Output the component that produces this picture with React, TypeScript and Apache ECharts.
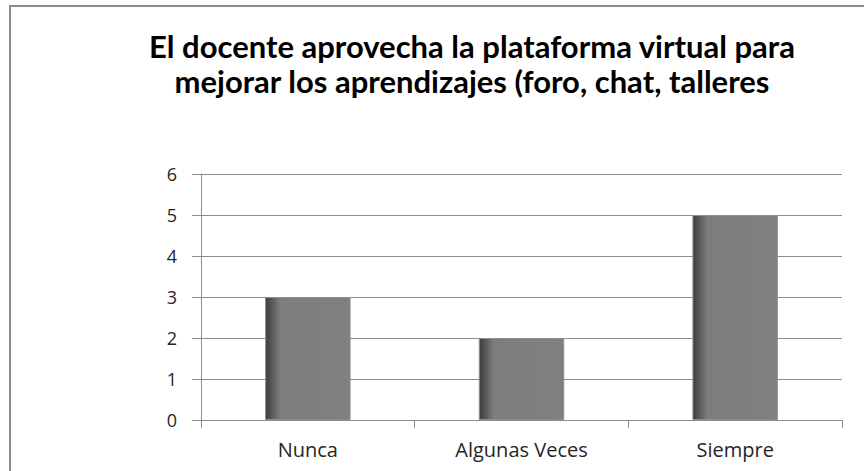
import React, { useEffect, useRef } from "react";
import * as echarts from "echarts";

const titleLines = [
  "El docente aprovecha la plataforma virtual para",
  "mejorar los aprendizajes (foro, chat, talleres",
];
const categories = ["Nunca", "Algunas Veces", "Siempre"];
const values = [3, 2, 5];
const yTicks = { min: 0, max: 6, interval: 1 };

export default function App() {
  const ref = useRef<HTMLDivElement>(null);
  useEffect(() => {
    const chart = echarts.init(ref.current!, null, { renderer: "svg" });
    chart.setOption({
      animation: false,
      backgroundColor: "#ffffff",
      graphic: [
        {
          type: "rect",
          shape: { x: 10, y: 6, width: 870, height: 480 },
          style: { fill: "none", stroke: "#8c8c8c", lineWidth: 2 },
          z: -1,
        },
        {
          type: "text",
          x: 472,
          y: 28,
          style: {
            text: titleLines.join("\n"),
            font: "bold 31px Lato",
            fill: "#000000",
            textAlign: "center",
            textVerticalAlign: "top",
            lineHeight: 35,
          },
        },
      ],
      grid: { left: 201, right: 22, top: 174, bottom: 51, containLabel: false },
      xAxis: {
        type: "category",
        data: categories,
        axisLine: { show: true, lineStyle: { color: "#8c8c8c", width: 1 } },
        axisTick: { show: true, length: 8, alignWithLabel: false, lineStyle: { color: "#8c8c8c" } },
        axisLabel: { margin: 19, fontFamily: "Open Sans", fontSize: 20, color: "#262626" },
        splitLine: { show: false },
      },
      yAxis: {
        type: "value",
        min: yTicks.min,
        max: yTicks.max,
        interval: yTicks.interval,
        axisLine: { show: true, lineStyle: { color: "#8c8c8c", width: 1 } },
        axisTick: { show: true, length: 9, lineStyle: { color: "#8c8c8c" } },
        axisLabel: { margin: 24, fontFamily: "Open Sans", fontSize: 18, color: "#262626" },
        splitLine: { show: true, lineStyle: { color: "#8c8c8c", width: 1 } },
      },
      series: [
        {
          type: "bar",
          data: values,
          barWidth: "40%",
          itemStyle: {
            color: new echarts.graphic.LinearGradient(0, 0, 1, 0, [
              { offset: 0, color: "#3c3c3c" },
              { offset: 0.17, color: "#7d7d7d" },
              { offset: 1, color: "#808080" },
            ]),
            borderColor: "#8e8e8e",
            borderWidth: 1,
          },
        },
      ],
    });
    return () => chart.dispose();
  }, []);
  return (
    <div
      ref={ref}
      style={{ position: "fixed", left: 0, top: 0, width: 864, height: 471 }}
    />
  );
}
